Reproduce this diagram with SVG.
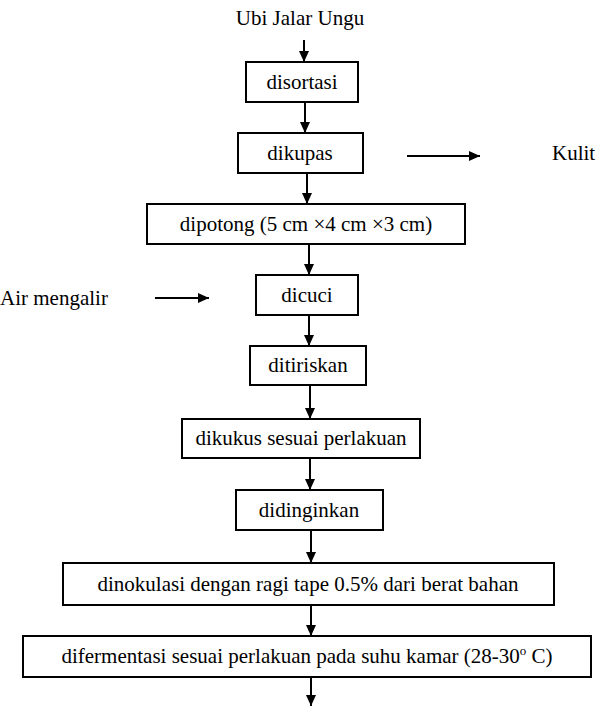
<svg xmlns="http://www.w3.org/2000/svg" width="596" height="707" viewBox="0 0 596 707">
<style>
.box{fill:#fff;stroke:#000;stroke-width:2}
text{font-family:'Liberation Serif','Times New Roman',Times,serif;font-size:21px;fill:#000}
.t{text-anchor:middle}
.c{stroke:#000;stroke-width:2;fill:none;marker-end:url(#ah)}
</style>
<defs>
<marker id="ah" markerUnits="userSpaceOnUse" markerWidth="10" markerHeight="12" refX="11" refY="5" orient="auto">
<path d="M0,0 L11,5 L0,10 z" fill="#000"/>
</marker>
</defs>
<rect width="596" height="707" fill="#fff"/>
<g id="start"><text class="t" x="300" y="25" font-family="Liberation Serif, serif">Ubi Jalar Ungu</text></g>
<g id="n1"><rect class="box" x="246" y="62" width="112" height="40"/><text class="t" x="302" y="89" font-family="Liberation Serif, serif">disortasi</text></g>
<g id="n2"><rect class="box" x="238" y="133" width="125" height="40"/><text class="t" x="300" y="160" font-family="Liberation Serif, serif">dikupas</text></g>
<g id="kulit"><text x="552" y="160" font-family="Liberation Serif, serif">Kulit</text></g>
<g id="n3"><rect class="box" x="147" y="204" width="318" height="40"/><text class="t" x="306" y="231" font-family="Liberation Serif, serif">dipotong (5 cm ×4 cm ×3 cm)</text></g>
<g id="air"><text x="0" y="305" font-family="Liberation Serif, serif">Air mengalir</text></g>
<g id="n4"><rect class="box" x="256" y="275" width="102" height="40"/><text class="t" x="307" y="302" font-family="Liberation Serif, serif">dicuci</text></g>
<g id="n5"><rect class="box" x="250" y="346" width="116" height="39"/><text class="t" x="308" y="372" font-family="Liberation Serif, serif">ditiriskan</text></g>
<g id="n6"><rect class="box" x="182" y="419" width="238" height="39"/><text class="t" x="301" y="445" font-family="Liberation Serif, serif">dikukus sesuai perlakuan</text></g>
<g id="n7"><rect class="box" x="236" y="490" width="147" height="40"/><text class="t" x="309" y="517" font-family="Liberation Serif, serif">didinginkan</text></g>
<g id="n8"><rect class="box" x="63" y="563" width="491" height="42"/><text class="t" x="308" y="591" font-family="Liberation Serif, serif">dinokulasi dengan ragi tape 0.5% dari berat bahan</text></g>
<g id="n9"><rect class="box" x="23" y="636" width="568" height="41"/><text class="t" x="307" y="663" font-family="Liberation Serif, serif">difermentasi sesuai perlakuan pada suhu kamar (28-30<tspan font-size="13" dy="-8">o</tspan><tspan dy="8"> C)</tspan></text></g>
<g id="connectors">
<line class="c" x1="304" y1="40" x2="304" y2="62"/>
<line class="c" x1="305" y1="102" x2="305" y2="133"/>
<line class="c" x1="307" y1="173" x2="307" y2="204"/>
<line class="c" x1="309" y1="244" x2="309" y2="275"/>
<line class="c" x1="309" y1="315" x2="309" y2="346"/>
<line class="c" x1="310" y1="385" x2="310" y2="419"/>
<line class="c" x1="310" y1="458" x2="310" y2="490"/>
<line class="c" x1="311" y1="530" x2="311" y2="563"/>
<line class="c" x1="311" y1="605" x2="311" y2="636"/>
<line class="c" x1="311" y1="677" x2="311" y2="706"/>
<line class="c" x1="407" y1="156" x2="480" y2="156"/>
<line class="c" x1="155" y1="298" x2="209" y2="298"/>
</g>
</svg>
